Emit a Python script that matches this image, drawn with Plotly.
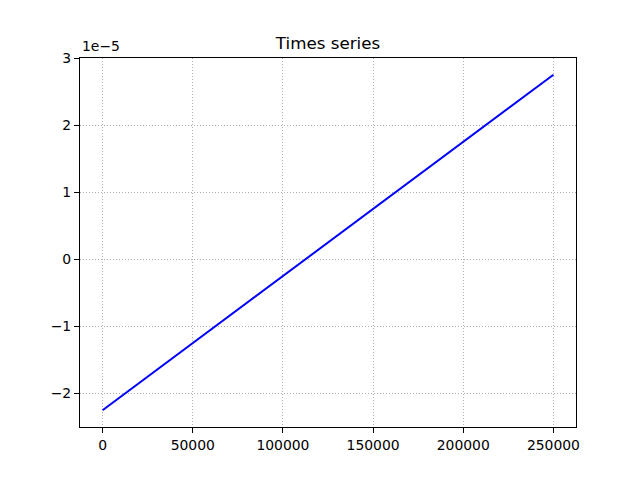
import plotly.graph_objects as go

x_vals = [0, 50000, 100000, 150000, 200000, 250000]
y_vals = [-2.25e-5, -1.25e-5, -0.25e-5, 0.75e-5, 1.75e-5, 2.75e-5]
y_tickvals = [-2e-5, -1e-5, 0, 1e-5, 2e-5, 3e-5]
y_ticktext = ["\u22122", "\u22121", "0", "1", "2", "3"]
x_tickvals = [0, 50000, 100000, 150000, 200000, 250000]
x_ticktext = ["0", "50000", "100000", "150000", "200000", "250000"]

fig = go.Figure()
fig.add_trace(go.Scatter(x=x_vals, y=y_vals, mode="lines",
                         line=dict(color="blue", width=2), showlegend=False))

axis_common = dict(showline=True, mirror=True, linecolor="black", linewidth=1.1,
                   ticks="outside", ticklen=5, tickwidth=1.1, tickcolor="black",
                   showgrid=True, gridcolor="#b0b0b0", griddash="1px,2px", gridwidth=1,
                   zeroline=False, tickfont=dict(family="DejaVu Sans", size=13.9, color="black"))

fig.update_xaxes(range=[-12500, 262500], tickvals=x_tickvals, ticktext=x_ticktext, **axis_common)
fig.update_yaxes(range=[-2.5e-5, 3e-5], tickvals=y_tickvals, ticktext=y_ticktext, **axis_common)

fig.update_layout(
    width=640, height=480,
    margin=dict(l=80, r=64, t=58, b=53),
    paper_bgcolor="white", plot_bgcolor="white",
    title=dict(text="Times series", x=0.5, xref="paper", xanchor="center",
               y=1, yref="paper", yanchor="bottom", pad=dict(b=9),
               font=dict(family="DejaVu Sans", size=16.7, color="black")),
    annotations=[dict(text="1e\u22125", x=0, y=1, xref="paper", yref="paper",
                      xanchor="left", yanchor="bottom", showarrow=False, yshift=2,
                      font=dict(family="DejaVu Sans", size=13.9, color="black"))],
)

fig.write_html("out.html", config={"displayModeBar": False},
               post_script="document.body.style.margin='0px';")
